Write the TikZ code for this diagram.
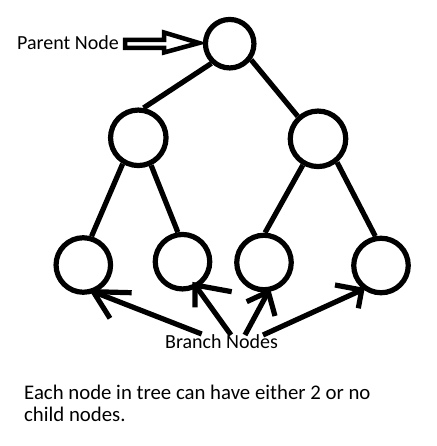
\documentclass[tikz,border=0pt]{standalone}
\usepackage{fontspec}
\setmainfont{Carlito}
\begin{document}
\begin{tikzpicture}[x=1pt,y=-1pt,
  treenode/.style={circle,draw,line width=5.2pt,inner sep=0pt},
  link/.style={line width=5.2pt},
  txt/.style={font=\fontsize{20.8}{22}\selectfont,inner sep=0pt,anchor=base west},
  smalltxt/.style={font=\fontsize{20}{22}\selectfont,inner sep=0pt,anchor=base west}]
\useasboundingbox[fill=white] (0,0) rectangle (436,446);
% tree nodes
\node[treenode,minimum size=48.5pt] (r) at (229.7,43.7) {};
\node[treenode,minimum size=55.5pt] (a) at (138.3,137.8) {};
\node[treenode,minimum size=55.5pt] (b) at (318,138.8) {};
\node[treenode,minimum size=54.5pt] (c1) at (83.3,265) {};
\node[treenode,minimum size=54.5pt] (c2) at (182.5,261.7) {};
\node[treenode,minimum size=54.5pt] (c3) at (264,262.5) {};
\node[treenode,minimum size=54.5pt] (c4) at (381,265.5) {};
% edges
\draw[link] (r.227) -- (a.80);
\draw[link] (r.323) -- (b.132);
\draw[link] (a.239) -- (c1.74);
\draw[link] (a.295) -- (c2.99);
\draw[link] (b.240) -- (c3.88);
\draw[link] (b.309) -- (c4.101);
% texts
\node[smalltxt] (pn) at (17,50) {Parent Node};
\node[smalltxt] (bn) at (165,348.3) {Branch Nodes};
\node[txt] (t1) at (24,399.3) {Each node in tree can have either 2 or no};
\node[txt] (t2) at (24,421.5) {child nodes.};
% parent arrow (outlined block arrow)
\draw[line width=4.5pt,line join=miter]
  (125,39.8) -- (164,39.8) -- (164,32.5) -- (199,43) -- (164,52.5) -- (164,47.8) -- (125,47.8) -- cycle;
% branch arrows
\coordinate (s1) at (201.7,334);
\coordinate (s2) at (231,335);
\coordinate (s3) at (245,335);
\coordinate (s4) at (263,335);
\coordinate (h1) at (93.3,291.7);
\coordinate (h2) at (195,285);
\coordinate (h3) at (268.3,291.7);
\coordinate (h4) at (361.7,290);
\draw[link] (s1) -- (h1);
\draw[link] (131.7,292.7) -- (h1) -- (110,318.3);
\draw[link] (s2) -- (h2);
\draw[link] (231.7,291.7) -- (h2) -- (195,307.3);
\draw[link] (s3) -- (h3);
\draw[link] (246.7,301.7) -- (h3) -- (275,316);
\draw[link] (s4) -- (h4);
\draw[link] (335,285) -- (h4) -- (358.3,308.3);
\end{tikzpicture}
\end{document}
